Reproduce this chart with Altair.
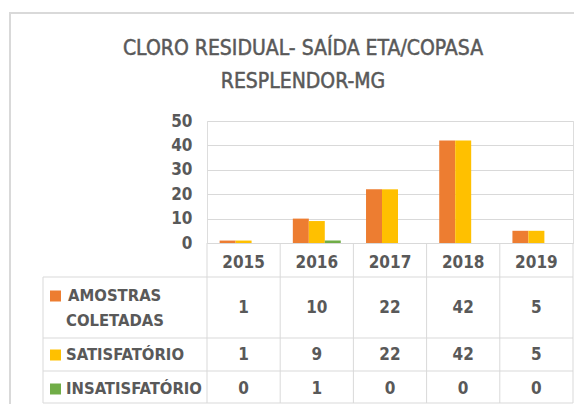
import altair as alt
import pandas as pd

years = ["2015", "2016", "2017", "2018", "2019"]
amostras = [1, 10, 22, 42, 5]
satisfatorio = [1, 9, 22, 42, 5]
insatisfatorio = [0, 1, 0, 0, 0]
series = ["AMOSTRAS COLETADAS", "SATISFATÓRIO", "INSATISFATÓRIO"]
series_lines = [["AMOSTRAS", "COLETADAS"], ["SATISFATÓRIO"], ["INSATISFATÓRIO"]]
colors = ["#ED7D31", "#FFC000", "#70AD47"]
title_lines = ["CLORO RESIDUAL- SAÍDA ETA/COPASA", "RESPLENDOR-MG"]

FONT = "DejaVu Sans Condensed, Liberation Sans Narrow, Liberation Sans, sans-serif"
GRAY = "#595959"
LINE = "#d9d9d9"

rows = []
for i, yr in enumerate(years):
    for s, vals in zip(series, [amostras, satisfatorio, insatisfatorio]):
        rows.append({"year": yr, "series": s, "value": vals[i]})
df = pd.DataFrame(rows)
one = pd.DataFrame({"k": [0]})
yrs = pd.DataFrame({"year": years})

W, H = 366, 122
x_scale = alt.Scale(domain=years, paddingInner=0, paddingOuter=0)
y_scale = alt.Scale(domain=[0, 50])

bars = alt.Chart(df).mark_bar().encode(
    x=alt.X("year:N", scale=x_scale, axis=alt.Axis(
        title=None, labelAngle=0, labelFontSize=17, labelFontWeight="bold",
        labelColor=GRAY, labelFont=FONT, labelPadding=19, labelBaseline="middle",
        ticks=False, domain=False, grid=False)),
    xOffset=alt.XOffset("series:N", sort=series,
                        scale=alt.Scale(domain=series, paddingInner=0, paddingOuter=0.79)),
    y=alt.Y("value:Q", scale=y_scale, axis=alt.Axis(
        title=None, values=[0, 10, 20, 30, 40, 50], labelFontSize=17,
        labelFontWeight="bold", labelColor=GRAY, labelFont=FONT, labelPadding=15,
        ticks=False, domain=False, grid=True, gridColor=LINE, gridWidth=1)),
    color=alt.Color("series:N", scale=alt.Scale(domain=series, range=colors), legend=None),
)

# table grid
row_lines = [156, 217, 250, 282]
hrules = [
    alt.Chart(one).mark_rule(color=LINE, strokeWidth=1).encode(
        x=alt.value(-164), x2=alt.value(W), y=alt.value(v))
    for v in row_lines
]
vrules = alt.Chart(yrs).mark_rule(color=LINE, strokeWidth=1).encode(
    x=alt.X("year:N", bandPosition=0, scale=x_scale), y=alt.value(H), y2=alt.value(282))
right_rule = alt.Chart(one).mark_rule(color=LINE, strokeWidth=1).encode(
    x=alt.value(W), y=alt.value(H), y2=alt.value(282))
left_rule = alt.Chart(one).mark_rule(color=LINE, strokeWidth=1).encode(
    x=alt.value(-164), y=alt.value(156), y2=alt.value(282))

# outer frame
frame_left = alt.Chart(one).mark_rule(color=LINE, strokeWidth=2).encode(
    x=alt.value(-197), y=alt.value(-108), y2=alt.value(290))
frame_top = alt.Chart(one).mark_rule(color=LINE, strokeWidth=2).encode(
    x=alt.value(-198), x2=alt.value(W + 5), y=alt.value(-108))

# title (two lines)
title_layers = [
    alt.Chart(one).mark_text(
        font=FONT, fontSize=21, fontWeight="normal", color=GRAY, stroke=GRAY,
        strokeWidth=0.5, align="center", baseline="alphabetic", text=t
    ).encode(x=alt.value(96), y=alt.value(yy))
    for t, yy in zip(title_lines, [-66, -33])
]

# table values and labels
row_centers = [187, 234, 268]
label_y = [[175, 200], [234], [268]]
vals_layers = []
label_layers = []
for s, c, yc, lines, ly in zip(series, colors, row_centers, series_lines, label_y):
    vals_layers.append(
        alt.Chart(df).transform_filter(alt.datum.series == s).mark_text(
            font=FONT, fontSize=17, fontWeight="bold", color=GRAY, baseline="middle"
        ).encode(x=alt.X("year:N", scale=x_scale, bandPosition=0.5), y=alt.value(yc),
                 text="value:Q"))
    label_layers.append(
        alt.Chart(one).mark_square(size=121, opacity=1, filled=True, color=c).encode(
            x=alt.value(-151.5), y=alt.value(ly[0])))
    for j, (t, yy) in enumerate(zip(lines, ly)):
        label_layers.append(
            alt.Chart(one).mark_text(
                font=FONT, fontSize=16.5, fontWeight="bold", color=GRAY,
                align="left", baseline="middle", text=t
            ).encode(x=alt.value(-139 if j == 0 and len(lines) > 1 else -141), y=alt.value(yy)))

chart = alt.layer(
    frame_left, frame_top, *title_layers, bars, *hrules, vrules, right_rule, left_rule,
    *vals_layers, *label_layers
).properties(
    width=W, height=H,
    padding={"left": 199, "top": 113, "right": 1, "bottom": 161},
    autosize=alt.AutoSizeParams(type="none"),
).configure_view(stroke=None).configure(background="white")

chart.save("out.html", embed_options={"renderer": "svg", "actions": False})
